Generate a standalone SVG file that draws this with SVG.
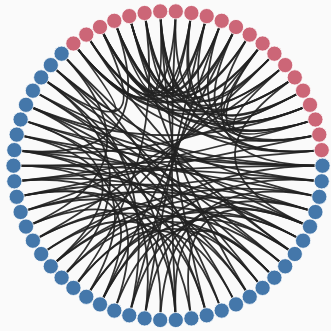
<svg xmlns="http://www.w3.org/2000/svg" width="331" height="331" viewBox="0 0 331 331">
<style>
.e path{fill:none;stroke:#222;stroke-width:1.8;stroke-opacity:0.92}
.n circle{r:7.6px;stroke:#fff;stroke-width:0.8}
.p circle{fill:#cc6677}
.b circle{fill:#4477aa}
</style>
<rect width="331" height="331" fill="#fafafa"/>
<g id="edges" class="e">
<path d="M321.7 150.1Q168 165.7 221.7 20.8"/>
<path d="M321.7 150.1Q168 165.7 100 27"/>
<path d="M321.7 150.1Q168 165.7 160.2 11.4"/>
<path d="M319.3 134.6Q168 165.7 191.4 13"/>
<path d="M319.3 134.6Q168 165.7 73.4 43.5"/>
<path d="M319.3 134.6Q168 165.7 262.6 43.5"/>
<path d="M315.4 119.5Q168 165.7 129.3 16.1"/>
<path d="M315.4 119.5Q168 165.7 236 27"/>
<path d="M310 104.8Q168 165.7 175.8 11.4"/>
<path d="M310 104.8Q168 165.7 86.3 34.6"/>
<path d="M310 104.8Q168 165.7 114.3 20.8"/>
<path d="M303.1 90.7Q168 165.7 144.6 13"/>
<path d="M303.1 90.7Q168 165.7 206.7 16.1"/>
<path d="M294.8 77.4Q168 165.7 100 27"/>
<path d="M294.8 77.4Q168 165.7 160.2 11.4"/>
<path d="M285.2 65.1Q168 165.7 73.4 43.5"/>
<path d="M285.2 65.1Q168 165.7 129.3 16.1"/>
<path d="M274.4 53.7Q168 165.7 114.3 20.8"/>
<path d="M274.4 53.7Q168 165.7 191.4 13"/>
<path d="M262.6 43.5Q168 165.7 86.3 34.6"/>
<path d="M262.6 43.5Q168 165.7 144.6 13"/>
<path d="M249.7 34.6Q168 165.7 73.4 43.5"/>
<path d="M249.7 34.6Q168 165.7 129.3 16.1"/>
<path d="M236 27Q168 165.7 100 27"/>
<path d="M236 27Q168 165.7 160.2 11.4"/>
<path d="M221.7 20.8Q168 165.7 114.3 20.8"/>
<path d="M221.7 20.8Q168 165.7 73.4 43.5"/>
<path d="M206.7 16.1Q168 165.7 86.3 34.6"/>
<path d="M206.7 16.1Q168 165.7 129.3 16.1"/>
<path d="M191.4 13Q168 165.7 100 27"/>
<path d="M175.8 11.4Q168 165.7 73.4 43.5"/>
<path d="M315.4 119.5Q168 165.7 285.2 65.1"/>
<path d="M191.4 13Q168 165.7 144.6 13"/>
<path d="M160.2 11.4Q168 165.7 114.3 20.8"/>
<path d="M303.1 90.7Q168 165.7 262.6 43.5"/>
<path d="M315.4 119.5Q168 165.7 100 27"/>
<path d="M294.8 77.4Q168 165.7 73.4 43.5"/>
<path d="M61.6 53.7Q168 165.7 221.7 310.6"/>
<path d="M61.6 53.7Q168 165.7 294.8 254"/>
<path d="M61.6 53.7Q168 165.7 26 226.6"/>
<path d="M50.8 65.1Q168 165.7 262.6 287.9"/>
<path d="M50.8 65.1Q168 165.7 129.3 315.3"/>
<path d="M50.8 65.1Q168 165.7 319.3 196.8"/>
<path d="M41.2 77.4Q168 165.7 310 226.6"/>
<path d="M41.2 77.4Q168 165.7 175.8 320"/>
<path d="M41.2 77.4Q168 165.7 61.6 277.7"/>
<path d="M32.9 90.7Q168 165.7 322.5 165.7"/>
<path d="M32.9 90.7Q168 165.7 236 304.4"/>
<path d="M32.9 90.7Q168 165.7 285.2 266.3"/>
<path d="M26 104.8Q168 165.7 321.7 181.3"/>
<path d="M26 104.8Q168 165.7 144.6 318.4"/>
<path d="M26 104.8Q168 165.7 274.4 277.7"/>
<path d="M20.6 119.5Q168 165.7 315.4 212"/>
<path d="M20.6 119.5Q168 165.7 206.7 315.3"/>
<path d="M20.6 119.5Q168 165.7 50.8 266.3"/>
<path d="M16.7 134.6Q168 165.7 303.1 240.7"/>
<path d="M16.7 134.6Q168 165.7 322.5 165.7"/>
<path d="M16.7 134.6Q168 165.7 86.3 296.8"/>
<path d="M14.3 150.1Q168 165.7 319.3 196.8"/>
<path d="M14.3 150.1Q168 165.7 249.7 296.8"/>
<path d="M14.3 150.1Q168 165.7 160.2 320"/>
<path d="M13.5 165.7Q168 165.7 321.7 181.3"/>
<path d="M13.5 165.7Q168 165.7 285.2 266.3"/>
<path d="M13.5 165.7Q168 165.7 114.3 310.6"/>
<path d="M14.3 181.3Q168 165.7 322.5 165.7"/>
<path d="M14.3 181.3Q168 165.7 303.1 240.7"/>
<path d="M14.3 181.3Q168 165.7 191.4 318.4"/>
<path d="M16.7 196.8Q168 165.7 315.4 212"/>
<path d="M16.7 196.8Q168 165.7 221.7 310.6"/>
<path d="M16.7 196.8Q168 165.7 100 304.4"/>
<path d="M20.6 212Q168 165.7 310 226.6"/>
<path d="M20.6 212Q168 165.7 262.6 287.9"/>
<path d="M26 226.6Q168 165.7 321.7 181.3"/>
<path d="M26 226.6Q168 165.7 175.8 320"/>
<path d="M32.9 240.7Q168 165.7 294.8 254"/>
<path d="M32.9 240.7Q168 165.7 249.7 296.8"/>
<path d="M41.2 254Q168 165.7 319.3 196.8"/>
<path d="M41.2 254Q168 165.7 206.7 315.3"/>
<path d="M50.8 266.3Q168 165.7 285.2 266.3"/>
<path d="M50.8 266.3Q168 165.7 315.4 212"/>
<path d="M61.6 277.7Q168 165.7 274.4 277.7"/>
<path d="M61.6 277.7Q168 165.7 322.5 165.7"/>
<path d="M73.4 287.9Q168 165.7 303.1 240.7"/>
<path d="M73.4 287.9Q168 165.7 236 304.4"/>
<path d="M86.3 296.8Q168 165.7 310 226.6"/>
<path d="M86.3 296.8Q168 165.7 262.6 287.9"/>
<path d="M100 304.4Q168 165.7 294.8 254"/>
<path d="M100 304.4Q168 165.7 321.7 181.3"/>
<path d="M114.3 310.6Q168 165.7 274.4 277.7"/>
<path d="M129.3 315.3Q168 165.7 303.1 240.7"/>
<path d="M144.6 318.4Q168 165.7 315.4 212"/>
<path d="M160.2 320Q168 165.7 319.3 196.8"/>
<path d="M175.8 320Q168 165.7 274.4 277.7"/>
<path d="M191.4 318.4Q168 165.7 310 226.6"/>
<path d="M322.5 165.7Q168 165.7 20.6 119.5"/>
<path d="M321.7 150.1Q168 165.7 13.5 165.7"/>
<path d="M319.3 134.6Q168 165.7 16.7 196.8"/>
<path d="M315.4 119.5Q168 165.7 14.3 181.3"/>
<path d="M310 104.8Q168 165.7 26 104.8"/>
<path d="M303.1 90.7Q168 165.7 14.3 150.1"/>
<path d="M285.2 65.1Q168 165.7 20.6 212"/>
<path d="M274.4 53.7Q168 165.7 32.9 240.7"/>
<path d="M262.6 43.5Q168 165.7 50.8 266.3"/>
<path d="M236 27Q168 165.7 100 304.4"/>
<path d="M221.7 20.8Q168 165.7 129.3 315.3"/>
<path d="M206.7 16.1Q168 165.7 144.6 318.4"/>
<path d="M175.8 11.4Q168 165.7 175.8 320"/>
<path d="M160.2 11.4Q168 165.7 206.7 315.3"/>
<path d="M144.6 13Q168 165.7 73.4 287.9"/>
<path d="M129.3 16.1Q168 165.7 249.7 296.8"/>
<path d="M86.3 34.6Q168 165.7 294.8 254"/>
<path d="M100 27Q168 165.7 41.2 77.4"/>
<path d="M73.4 43.5Q168 165.7 50.8 65.1"/>
<path d="M294.8 77.4Q168 165.7 310 226.6"/>
<path d="M249.7 34.6Q168 165.7 322.5 165.7"/>
<path d="M114.3 20.8Q168 165.7 14.3 150.1"/>
</g>
<g id="n0" class="n b"><circle cx="322.5" cy="165.7"/></g>
<g id="n1" class="n p"><circle cx="321.7" cy="150.1"/></g>
<g id="n2" class="n p"><circle cx="319.3" cy="134.6"/></g>
<g id="n3" class="n p"><circle cx="315.4" cy="119.5"/></g>
<g id="n4" class="n p"><circle cx="310" cy="104.8"/></g>
<g id="n5" class="n p"><circle cx="303.1" cy="90.7"/></g>
<g id="n6" class="n p"><circle cx="294.8" cy="77.4"/></g>
<g id="n7" class="n p"><circle cx="285.2" cy="65.1"/></g>
<g id="n8" class="n p"><circle cx="274.4" cy="53.7"/></g>
<g id="n9" class="n p"><circle cx="262.6" cy="43.5"/></g>
<g id="n10" class="n p"><circle cx="249.7" cy="34.6"/></g>
<g id="n11" class="n p"><circle cx="236" cy="27"/></g>
<g id="n12" class="n p"><circle cx="221.7" cy="20.8"/></g>
<g id="n13" class="n p"><circle cx="206.7" cy="16.1"/></g>
<g id="n14" class="n p"><circle cx="191.4" cy="13"/></g>
<g id="n15" class="n p"><circle cx="175.8" cy="11.4"/></g>
<g id="n16" class="n p"><circle cx="160.2" cy="11.4"/></g>
<g id="n17" class="n p"><circle cx="144.6" cy="13"/></g>
<g id="n18" class="n p"><circle cx="129.3" cy="16.1"/></g>
<g id="n19" class="n p"><circle cx="114.3" cy="20.8"/></g>
<g id="n20" class="n p"><circle cx="100" cy="27"/></g>
<g id="n21" class="n p"><circle cx="86.3" cy="34.6"/></g>
<g id="n22" class="n p"><circle cx="73.4" cy="43.5"/></g>
<g id="n23" class="n b"><circle cx="61.6" cy="53.7"/></g>
<g id="n24" class="n b"><circle cx="50.8" cy="65.1"/></g>
<g id="n25" class="n b"><circle cx="41.2" cy="77.4"/></g>
<g id="n26" class="n b"><circle cx="32.9" cy="90.7"/></g>
<g id="n27" class="n b"><circle cx="26" cy="104.8"/></g>
<g id="n28" class="n b"><circle cx="20.6" cy="119.5"/></g>
<g id="n29" class="n b"><circle cx="16.7" cy="134.6"/></g>
<g id="n30" class="n b"><circle cx="14.3" cy="150.1"/></g>
<g id="n31" class="n b"><circle cx="13.5" cy="165.7"/></g>
<g id="n32" class="n b"><circle cx="14.3" cy="181.3"/></g>
<g id="n33" class="n b"><circle cx="16.7" cy="196.8"/></g>
<g id="n34" class="n b"><circle cx="20.6" cy="212"/></g>
<g id="n35" class="n b"><circle cx="26" cy="226.6"/></g>
<g id="n36" class="n b"><circle cx="32.9" cy="240.7"/></g>
<g id="n37" class="n b"><circle cx="41.2" cy="254"/></g>
<g id="n38" class="n b"><circle cx="50.8" cy="266.3"/></g>
<g id="n39" class="n b"><circle cx="61.6" cy="277.7"/></g>
<g id="n40" class="n b"><circle cx="73.4" cy="287.9"/></g>
<g id="n41" class="n b"><circle cx="86.3" cy="296.8"/></g>
<g id="n42" class="n b"><circle cx="100" cy="304.4"/></g>
<g id="n43" class="n b"><circle cx="114.3" cy="310.6"/></g>
<g id="n44" class="n b"><circle cx="129.3" cy="315.3"/></g>
<g id="n45" class="n b"><circle cx="144.6" cy="318.4"/></g>
<g id="n46" class="n b"><circle cx="160.2" cy="320"/></g>
<g id="n47" class="n b"><circle cx="175.8" cy="320"/></g>
<g id="n48" class="n b"><circle cx="191.4" cy="318.4"/></g>
<g id="n49" class="n b"><circle cx="206.7" cy="315.3"/></g>
<g id="n50" class="n b"><circle cx="221.7" cy="310.6"/></g>
<g id="n51" class="n b"><circle cx="236" cy="304.4"/></g>
<g id="n52" class="n b"><circle cx="249.7" cy="296.8"/></g>
<g id="n53" class="n b"><circle cx="262.6" cy="287.9"/></g>
<g id="n54" class="n b"><circle cx="274.4" cy="277.7"/></g>
<g id="n55" class="n b"><circle cx="285.2" cy="266.3"/></g>
<g id="n56" class="n b"><circle cx="294.8" cy="254"/></g>
<g id="n57" class="n b"><circle cx="303.1" cy="240.7"/></g>
<g id="n58" class="n b"><circle cx="310" cy="226.6"/></g>
<g id="n59" class="n b"><circle cx="315.4" cy="212"/></g>
<g id="n60" class="n b"><circle cx="319.3" cy="196.8"/></g>
<g id="n61" class="n b"><circle cx="321.7" cy="181.3"/></g>
</svg>
